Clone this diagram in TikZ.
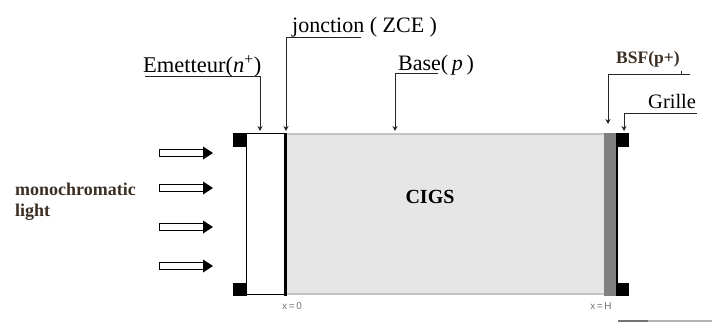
\documentclass[tikz,border=0pt]{standalone}
\usepackage{fontspec}
\setmainfont{Liberation Serif}
\newfontfamily\labsans{Liberation Sans}
\usetikzlibrary{arrows.meta}
\definecolor{basegray}{HTML}{E6E6E6}
\definecolor{basebord}{HTML}{C4C4C4}
\definecolor{bsfgray}{HTML}{808080}
\definecolor{browntext}{HTML}{3B2E22}
\tikzset{
  lab/.style={anchor=base west, inner sep=0pt, font=\fontsize{22}{26}\selectfont},
  leader/.style={draw=black!85, line width=0.8pt, -{Stealth[length=5pt,width=5pt]}},
  xlab/.style={inner sep=0pt, text=black!55, font=\labsans\fontsize{10}{12}\selectfont},
  contact/.style={fill=black},
  lightarrow/.pic={
    \draw[line width=0.8pt, fill=white] (0,-3.5) rectangle (44,3.5);
    \fill (44,-6.5) -- (54,0) -- (44,6.5) -- cycle;
  }
}
\begin{document}
\begin{tikzpicture}[x=1pt,y=-1pt]
\useasboundingbox (0,0) rectangle (712,327);

% base region
\fill[basegray] (286,133) rectangle (605,295);
\draw[basebord, line width=1.6pt] (286,134) -- (605,134);
\draw[basebord, line width=1.6pt] (286,294) -- (605,294);
% BSF strip
\fill[bsfgray] (604,133) rectangle (616.5,295.5);
% emitter
\draw[line width=0.9pt, fill=white] (246,133.5) rectangle (285,294.5);
% junction
\draw[line width=3pt] (285,133) -- (285,295.5);
% right grid line
\draw[line width=1.5pt] (617,140) -- (617,290);
% contacts
\fill[contact] (233,133) rectangle (246.5,147);
\fill[contact] (233,283) rectangle (246.5,296);
\fill[contact] (616,133) rectangle (628.5,147);
\fill[contact] (616,283) rectangle (628.5,296);

% labels
\node[lab, font=\fontsize{22.5}{26}\selectfont] (em) at (143,72) {Emetteur(\textit{n}\textsuperscript{+})};
\node[lab] (jo) at (292,32) {jonction ( ZCE )};
\node[lab] (ba) at (398,70) {Base(\,\textit{p}\,)};
\node[lab, font=\bfseries\fontsize{17.5}{20}\selectfont, text=browntext] (bsf) at (616,63) {BSF(p+)};
\node[lab, font=\fontsize{20.5}{24}\selectfont] (gr) at (648,108) {Grille};
\node[anchor=base, inner sep=0pt, font=\bfseries\fontsize{20}{24}\selectfont] (cigs) at (430,203) {CIGS};
\node[anchor=north west, inner sep=0pt, align=left, text=browntext,
      font=\bfseries\fontsize{18}{21}\selectfont] (mono) at (15,183) {monochromatic\\light};
\node[xlab] (x0) at (292,306) {x\,=\,0};
\node[xlab] (xH) at (601,306) {x\,=\,H};

% leader coordinates
\coordinate (emA) at (145,76);  \coordinate (emB) at (260,76);  \coordinate (emT) at (260,131);
\coordinate (joA) at (361,37);  \coordinate (joB) at (286,37);  \coordinate (joT) at (286,131);
\coordinate (baA) at (438,73);  \coordinate (baB) at (395,73);  \coordinate (baT) at (395,131);
\coordinate (bsA) at (690,74);  \coordinate (bsB) at (608,74);  \coordinate (bsT) at (608,124);
\coordinate (grA) at (697,113); \coordinate (grB) at (624,113); \coordinate (grT) at (624,131);
\coordinate (bsK) at (681,71);

\draw[leader] (emA) -- (emB) -- (emT);
\draw[leader] (joA) -- (joB) -- (joT);
\draw[leader] (baA) -- (baB) -- (baT);
\draw[leader] (bsA) -- (bsB) -- (bsT);
\draw[leader] (grA) -- (grB) -- (grT);
\draw[black!85, line width=0.8pt] (bsK) -- (bsK |- bsA);

% light arrows
\pic at (159,153) {lightarrow};
\pic at (159,188) {lightarrow};
\pic at (159,227) {lightarrow};
\pic at (159,266) {lightarrow};

% bottom right scale line
\coordinate (sl1) at (618,321); \coordinate (sl2) at (648,321); \coordinate (sl3) at (712,321);
\draw[black!55, line width=1.2pt] (sl1) -- (sl2);
\draw[black!30, line width=1.2pt] (sl2) -- (sl3);
\end{tikzpicture}
\end{document}
